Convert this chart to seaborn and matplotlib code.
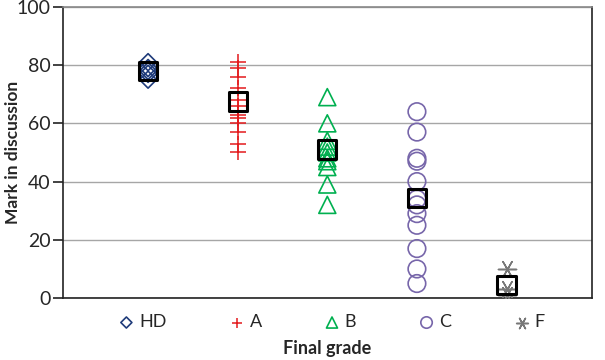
import pandas as pd
import seaborn as sns
import matplotlib.pyplot as plt

grades = ['HD', 'A', 'B', 'C', 'F']
hd_marks = [81, 79, 78, 77, 75]
a_marks = [81, 79, 76, 72, 68, 66, 63, 62, 60, 57, 53, 50]
b_marks = [69, 60, 54, 52, 50, 48, 47, 45, 39, 32]
c_marks = [64, 57, 48, 47, 40, 34, 32, 29, 25, 17, 10, 5]
f_marks = [10, 3, 1]
mean_marks = [78, 67.5, 51, 34.5, 4.5]

colors = ['#1F3B7A', '#E31A1C', '#00B050', '#7766AA', '#777777']
markers = ['D', '+', '^', 'o', (6, 2, 90)]
sizes = [75, 130, 150, 160, 170]

rows = []
for i, (g, vals) in enumerate(zip(grades, [hd_marks, a_marks, b_marks, c_marks, f_marks])):
    for v in vals:
        rows.append({'grade': g, 'pos': i + 1, 'mark': v})
df = pd.DataFrame(rows)
means = pd.DataFrame({'grade': grades, 'pos': range(1, 6), 'mark': mean_marks})

sns.set_style('white')
plt.rcParams['font.family'] = ['Lato', 'DejaVu Sans']

fig, ax = plt.subplots(figsize=(6.05, 3.6), dpi=100)
fig.subplots_adjust(left=0.104, right=0.978, top=0.981, bottom=0.172)

for g, c, m, s in zip(grades, colors, markers, sizes):
    sub = df[df['grade'] == g]
    if m in ['+', (6, 2, 90)]:
        sns.scatterplot(data=sub, x='pos', y='mark', marker=m, color=c, s=s,
                        linewidth=1.1, ax=ax, label=g, zorder=3)
    else:
        sns.scatterplot(data=sub, x='pos', y='mark', marker=m, s=s, ax=ax,
                        facecolors='none', edgecolor=c, linewidth=1.2,
                        label=g, zorder=3)

# means as open black squares
sns.scatterplot(data=means, x='pos', y='mark', marker='s', s=170, ax=ax,
                facecolors='none', edgecolor='black', linewidth=2.2, zorder=4,
                legend=False)

ax.set_xlim(0.05, 5.95)
ax.set_ylim(0, 100)
ax.set_yticks([0, 20, 40, 60, 80, 100])
ax.set_xticks([])
ax.yaxis.grid(True, color='#A6A6A6', linewidth=1)
ax.set_axisbelow(True)
for sp in ax.spines.values():
    sp.set_visible(True)
    sp.set_color('#222222')
    sp.set_linewidth(1.2)
ax.spines['top'].set_color('#888888')
ax.tick_params(axis='y', left=True, length=7, width=1.2, color='#222222',
               labelsize=14, pad=2)

ax.set_xlabel('Final grade', fontsize=13, fontweight='bold')
ax.xaxis.set_label_coords(0.5, -0.145)
ax.set_ylabel('Mark in discussion', fontsize=12.5, fontweight='bold')
ax.yaxis.set_label_coords(-0.08, 0.5)

ax.legend(loc='center', bbox_to_anchor=(0.505, -0.083), ncol=5, frameon=False,
          fontsize=13, handletextpad=0.1, columnspacing=3.3, handlelength=1.2,
          markerscale=0.65)

plt.savefig('out.png', dpi=100)
